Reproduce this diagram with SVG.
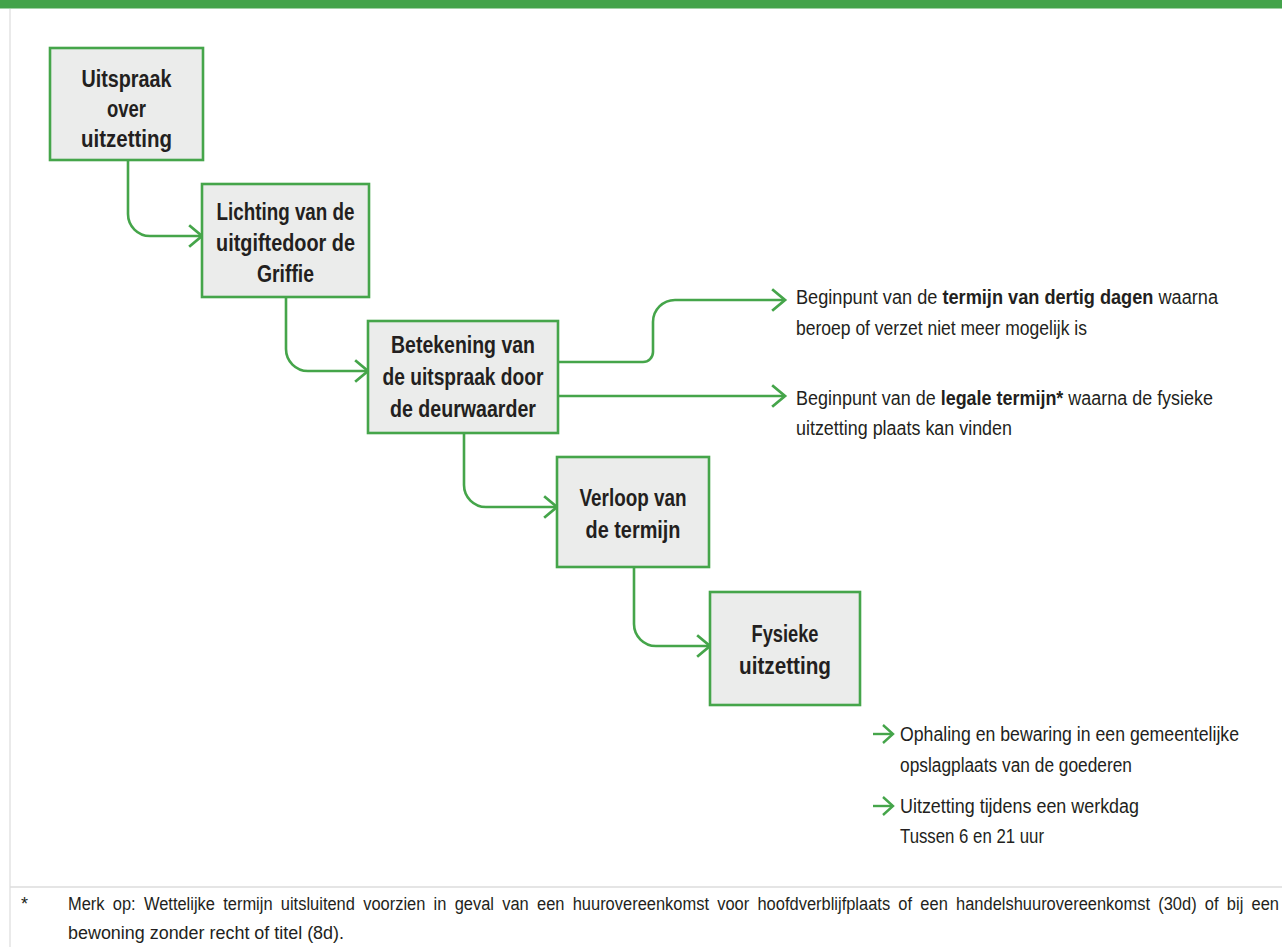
<svg xmlns="http://www.w3.org/2000/svg" width="1282" height="947" viewBox="0 0 1282 947">
  <defs>
    <marker id="chev" markerUnits="userSpaceOnUse" markerWidth="30" markerHeight="30" viewBox="-16 -14 20 28" refX="0" refY="0" orient="auto">
      <path d="M-12,-10 L0,0 L-12,10" fill="none" stroke="#45a54a" stroke-width="2.6" stroke-linejoin="miter"/>
    </marker>
    <marker id="chevs" markerUnits="userSpaceOnUse" markerWidth="24" markerHeight="24" viewBox="-14 -12 18 24" refX="0" refY="0" orient="auto">
      <path d="M-10,-9 L0,0 L-10,9" fill="none" stroke="#45a54a" stroke-width="2.4"/>
    </marker>
  </defs>
  <style>
    .box { fill: #ebeceb; stroke: #45a54a; stroke-width: 2.6; }
    .lbl { font-family: "Liberation Sans", Arial, sans-serif; font-weight: bold; font-size: 23px; fill: #231f20; text-anchor: middle; }
    .note { font-family: "Liberation Sans", Arial, sans-serif; font-size: 19.5px; fill: #231f20; }
    .b { font-weight: bold; }
    .foot { font-family: "Liberation Sans", Arial, sans-serif; font-size: 18px; fill: #231f20; }
    .link { fill: none; stroke: #45a54a; stroke-width: 2.6; marker-end: url(#chev); }
    .tick { fill: none; stroke: #45a54a; stroke-width: 2.4; marker-end: url(#chevs); }
  </style>

  <rect x="0" y="0" width="1282" height="947" fill="#ffffff"/>
  <!-- title bar -->
  <rect x="0" y="0" width="1282" height="8.5" fill="#43a34a"/>
  <!-- frame rules -->
  <line x1="10" y1="9" x2="10" y2="947" stroke="#e3e3e3" stroke-width="1.5"/>
  <line x1="10" y1="887" x2="1282" y2="887" stroke="#dcdcdc" stroke-width="1.5"/>

  <!-- connectors -->
  <g id="connectors">
    <path class="link" d="M128 160 V214 A22 22 0 0 0 150 236 H202"/>
    <path class="link" d="M286 297 V349 A22 22 0 0 0 308 371 H368"/>
    <path class="link" d="M464 433 V485 A22 22 0 0 0 486 507 H557"/>
    <path class="link" d="M634 567 V624 A22 22 0 0 0 656 646 H710"/>
    <path class="link" d="M558 362 H643 A10 10 0 0 0 653 352 V322 A22 22 0 0 1 675 300 H785"/>
    <path class="link" d="M558 396 H785"/>
    <path class="tick" d="M873 734 H893"/>
    <path class="tick" d="M873 806 H893"/>
  </g>

  <g id="n1">
    <rect class="box" x="50" y="48" width="153" height="112"/>
    <text class="lbl" x="126.5" y="87" textLength="90" lengthAdjust="spacingAndGlyphs">Uitspraak</text>
    <text class="lbl" x="126.5" y="117" textLength="39" lengthAdjust="spacingAndGlyphs">over</text>
    <text class="lbl" x="126.5" y="147" textLength="91" lengthAdjust="spacingAndGlyphs">uitzetting</text>
  </g>

  <g id="n2">
    <rect class="box" x="202" y="184" width="167" height="113"/>
    <text class="lbl" x="285.5" y="220" textLength="138" lengthAdjust="spacingAndGlyphs">Lichting van de</text>
    <text class="lbl" x="285.5" y="251" textLength="139" lengthAdjust="spacingAndGlyphs">uitgiftedoor de</text>
    <text class="lbl" x="285.5" y="282" textLength="57" lengthAdjust="spacingAndGlyphs">Griffie</text>
  </g>

  <g id="n3">
    <rect class="box" x="368" y="321" width="190" height="112"/>
    <text class="lbl" x="463" y="353" textLength="144" lengthAdjust="spacingAndGlyphs">Betekening van</text>
    <text class="lbl" x="463" y="385" textLength="161" lengthAdjust="spacingAndGlyphs">de uitspraak door</text>
    <text class="lbl" x="463" y="417" textLength="146" lengthAdjust="spacingAndGlyphs">de deurwaarder</text>
  </g>

  <g id="n4">
    <rect class="box" x="557" y="457" width="152" height="110"/>
    <text class="lbl" x="633" y="506" textLength="107" lengthAdjust="spacingAndGlyphs">Verloop van</text>
    <text class="lbl" x="633" y="538" textLength="95" lengthAdjust="spacingAndGlyphs">de termijn</text>
  </g>

  <g id="n5">
    <rect class="box" x="710" y="592" width="150" height="113"/>
    <text class="lbl" x="785" y="642" textLength="67" lengthAdjust="spacingAndGlyphs">Fysieke</text>
    <text class="lbl" x="785" y="674" textLength="92" lengthAdjust="spacingAndGlyphs">uitzetting</text>
  </g>

  <g id="notes">
    <text class="note" x="796" y="304" textLength="422" lengthAdjust="spacingAndGlyphs">Beginpunt van de <tspan class="b">termijn van dertig dagen</tspan> waarna</text>
    <text class="note" x="796" y="335" textLength="291" lengthAdjust="spacingAndGlyphs">beroep of verzet niet meer mogelijk is</text>
    <text class="note" x="796" y="405" textLength="417" lengthAdjust="spacingAndGlyphs">Beginpunt van de <tspan class="b">legale termijn*</tspan> waarna de fysieke</text>
    <text class="note" x="796" y="435" textLength="216" lengthAdjust="spacingAndGlyphs">uitzetting plaats kan vinden</text>
    <text class="note" x="900" y="741" textLength="339" lengthAdjust="spacingAndGlyphs">Ophaling en bewaring in een gemeentelijke</text>
    <text class="note" x="900" y="772" textLength="232" lengthAdjust="spacingAndGlyphs">opslagplaats van de goederen</text>
    <text class="note" x="900" y="813" textLength="239" lengthAdjust="spacingAndGlyphs">Uitzetting tijdens een werkdag</text>
    <text class="note" x="900" y="843" textLength="144" lengthAdjust="spacingAndGlyphs">Tussen 6 en 21 uur</text>
  </g>

  <g id="footnote">
    <text class="foot" x="21" y="910">*</text>
    <text class="foot" x="68" y="910" textLength="1211" lengthAdjust="spacingAndGlyphs" word-spacing="4">Merk op: Wettelijke termijn uitsluitend voorzien in geval van een huurovereenkomst voor hoofdverblijfplaats of een handelshuurovereenkomst (30d) of bij een</text>
    <text class="foot" x="68" y="939" textLength="276" lengthAdjust="spacingAndGlyphs">bewoning zonder recht of titel (8d).</text>
  </g>
</svg>
